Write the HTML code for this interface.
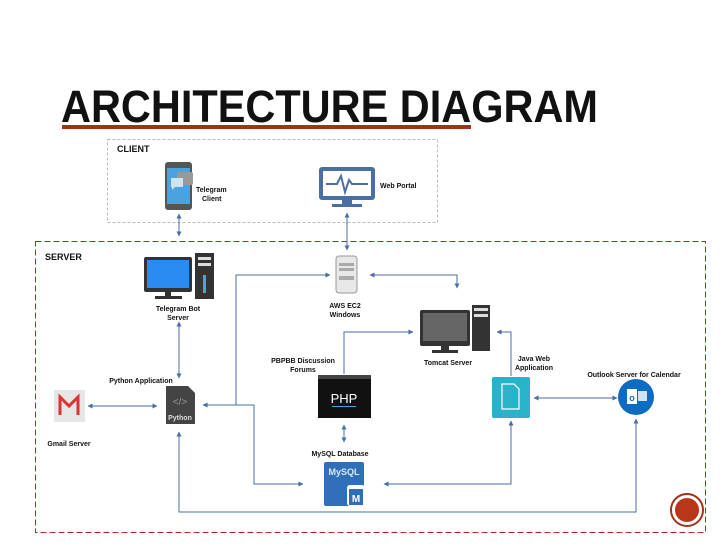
<!DOCTYPE html>
<html><head><meta charset="utf-8"><style>
body{margin:0;width:720px;height:540px;background:#fff;overflow:hidden}
text{font-family:"Liberation Sans",sans-serif}
.l{font-size:7px;font-weight:bold;fill:#111}
</style></head><body>
<svg width="720" height="540" viewBox="0 0 720 540" xmlns="http://www.w3.org/2000/svg">
<defs>
<marker id="a" viewBox="0 0 10 10" refX="9" refY="5" markerWidth="5" markerHeight="5" orient="auto-start-reverse"><path d="M0,0L10,5L0,10z" fill="#4a6fa5"/></marker>
</defs>
<text x="61" y="122" font-size="45" font-weight="bold" fill="#111" textLength="537" lengthAdjust="spacingAndGlyphs">ARCHITECTURE DIAGRAM</text>
<rect x="62" y="125" width="409" height="4" fill="#a3311a"/>
<rect x="107.5" y="139.5" width="330" height="83" fill="none" stroke="#bbb" stroke-dasharray="3,2"/>
<rect x="35.5" y="241.5" width="670" height="291" fill="none" stroke="#b22" stroke-dasharray="6,3"/>
<text x="117" y="152" font-size="9" font-weight="bold" fill="#111">CLIENT</text>
<text x="45" y="260" font-size="9" font-weight="bold" fill="#111">SERVER</text>
<g stroke="#4a6fa5" stroke-width="1" fill="none">
<line x1="179" y1="214" x2="179" y2="236" marker-start="url(#a)" marker-end="url(#a)"/>
<line x1="347" y1="213" x2="347" y2="250" marker-start="url(#a)" marker-end="url(#a)"/>
<polyline points="236,405 236,275 330,275" marker-end="url(#a)"/>
<polyline points="370,275 457,275 457,288" marker-start="url(#a)" marker-end="url(#a)"/>
<line x1="179" y1="322" x2="179" y2="378" marker-start="url(#a)" marker-end="url(#a)"/>
<line x1="88" y1="406" x2="157" y2="406" marker-start="url(#a)" marker-end="url(#a)"/>
<polyline points="203,405 254,405 254,484 303,484" marker-start="url(#a)" marker-end="url(#a)"/>
<polyline points="344,374 344,332 413,332" marker-end="url(#a)"/>
<line x1="344" y1="425" x2="344" y2="442" marker-start="url(#a)" marker-end="url(#a)"/>
<polyline points="511,376 511,332 497,332" marker-end="url(#a)"/>
<line x1="534" y1="398" x2="617" y2="398" marker-start="url(#a)" marker-end="url(#a)"/>
<polyline points="384,484 511,484 511,421" marker-start="url(#a)" marker-end="url(#a)"/>
<polyline points="179,432 179,512 636,512 636,419" marker-start="url(#a)" marker-end="url(#a)"/>
</g>
<!-- phone -->
<rect x="165" y="162" width="27" height="48" rx="3" fill="#555"/>
<rect x="167" y="168" width="23" height="36" fill="#4aa3df"/>
<rect x="177" y="172" width="16" height="13" rx="2" fill="#999"/>
<path d="M171,178h12v9h-8l-3,3v-3h-1z" fill="#cfe3f2"/>
<text class="l" x="196" y="192">Telegram</text><text class="l" x="202" y="201">Client</text>
<!-- web portal -->
<rect x="319" y="167" width="56" height="33" rx="3" fill="#4a6fa5"/>
<rect x="323" y="171" width="48" height="25" fill="#fff"/>
<polyline points="326,184 337,184 341,176 345,192 349,180 352,184 368,184" fill="none" stroke="#4a6fa5" stroke-width="2"/>
<rect x="342" y="200" width="10" height="4" fill="#4a6fa5"/><rect x="332" y="204" width="30" height="3" fill="#4a6fa5"/>
<text class="l" x="380" y="188">Web Portal</text>
<!-- telegram bot server -->
<rect x="144" y="257" width="48" height="35" rx="2" fill="#333"/>
<rect x="147" y="260" width="42" height="28" fill="#2a8cf0"/>
<rect x="165" y="292" width="6" height="4" fill="#333"/><rect x="155" y="296" width="27" height="3" fill="#333"/>
<rect x="195" y="253" width="19" height="46" fill="#333"/>
<rect x="198" y="257" width="13" height="3" fill="#ddd"/><rect x="198" y="263" width="13" height="3" fill="#ddd"/>
<rect x="203" y="275" width="3" height="18" fill="#4aa3df"/>
<text class="l" x="178" y="311" text-anchor="middle">Telegram Bot</text><text class="l" x="178" y="320" text-anchor="middle">Server</text>
<!-- EC2 -->
<rect x="336" y="256" width="21" height="37" rx="3" fill="#e8e8e8" stroke="#999"/>
<rect x="339" y="263" width="15" height="3" fill="#aaa"/><rect x="339" y="268" width="15" height="3" fill="#aaa"/><rect x="339" y="276" width="15" height="4" fill="#aaa"/>
<text class="l" x="345" y="308" text-anchor="middle">AWS EC2</text><text class="l" x="345" y="317" text-anchor="middle">Windows</text>
<!-- tomcat -->
<rect x="420" y="310" width="50" height="36" rx="2" fill="#333"/>
<rect x="423" y="313" width="44" height="28" fill="#666"/>
<rect x="441" y="346" width="8" height="4" fill="#333"/><rect x="432" y="350" width="26" height="3" fill="#333"/>
<rect x="472" y="305" width="18" height="46" fill="#333"/>
<rect x="474" y="308" width="14" height="3" fill="#ddd"/><rect x="474" y="314" width="14" height="3" fill="#ddd"/>
<text class="l" x="448" y="365" text-anchor="middle">Tomcat Server</text>
<!-- PHP -->
<text class="l" x="303" y="363" text-anchor="middle">PBPBB Discussion</text><text class="l" x="303" y="372" text-anchor="middle">Forums</text>
<rect x="318" y="375" width="53" height="43" fill="#111"/>
<rect x="318" y="375" width="53" height="4" fill="#444"/>
<text x="344" y="403" font-size="13" fill="#fff" text-anchor="middle">PHP</text>
<rect x="332" y="406" width="24" height="1" fill="#4aa3df"/>
<!-- MySQL -->
<text class="l" x="340" y="456" text-anchor="middle">MySQL Database</text>
<rect x="324" y="462" width="40" height="44" rx="2" fill="#2f6fb8"/>
<text x="344" y="475" font-size="9" font-weight="bold" fill="#dce9f7" text-anchor="middle">MySQL</text>
<rect x="347" y="485" width="18" height="21" rx="3" fill="#fff"/>
<rect x="349" y="489" width="14" height="16" fill="#2f6fb8"/>
<text x="356" y="502" font-size="10" font-weight="bold" fill="#fff" text-anchor="middle">M</text>
<!-- Java -->
<text class="l" x="534" y="361" text-anchor="middle">Java Web</text><text class="l" x="534" y="370" text-anchor="middle">Application</text>
<rect x="492" y="377" width="38" height="41" rx="2" fill="#29b2c8"/>
<path d="M502,384h12l5,5v20h-17z" fill="none" stroke="#fff" stroke-width="1.2"/>
<!-- Outlook -->
<text class="l" x="634" y="377" text-anchor="middle">Outlook Server for Calendar</text>
<circle cx="636" cy="397" r="18" fill="#0e6bc2"/>
<rect x="627" y="389" width="10" height="15" fill="#fff"/><text x="632" y="401" font-size="9" font-weight="bold" fill="#0e6bc2" text-anchor="middle">o</text>
<rect x="638" y="391" width="9" height="10" fill="#cfe3f7"/>
<!-- Python -->
<text class="l" x="141" y="383" text-anchor="middle">Python Application</text>
<path d="M166,386h22l7,7v31h-29z" fill="#444"/>
<text x="180" y="405" font-size="10" fill="#999" text-anchor="middle">&lt;/&gt;</text>
<text x="180" y="420" font-size="7" font-weight="bold" fill="#ddd" text-anchor="middle">Python</text>
<!-- Gmail -->
<rect x="54" y="390" width="31" height="32" fill="#e6e6e6"/>
<path d="M60,415v-18l9,9l9,-9v18" fill="none" stroke="#d33" stroke-width="3"/>
<text class="l" x="69" y="446" text-anchor="middle">Gmail Server</text>
<!-- red circle -->
<circle cx="687" cy="510" r="16" fill="none" stroke="#a3311a" stroke-width="2"/>
<circle cx="687" cy="510" r="12" fill="#b8361a"/>
</svg>
</body></html>
